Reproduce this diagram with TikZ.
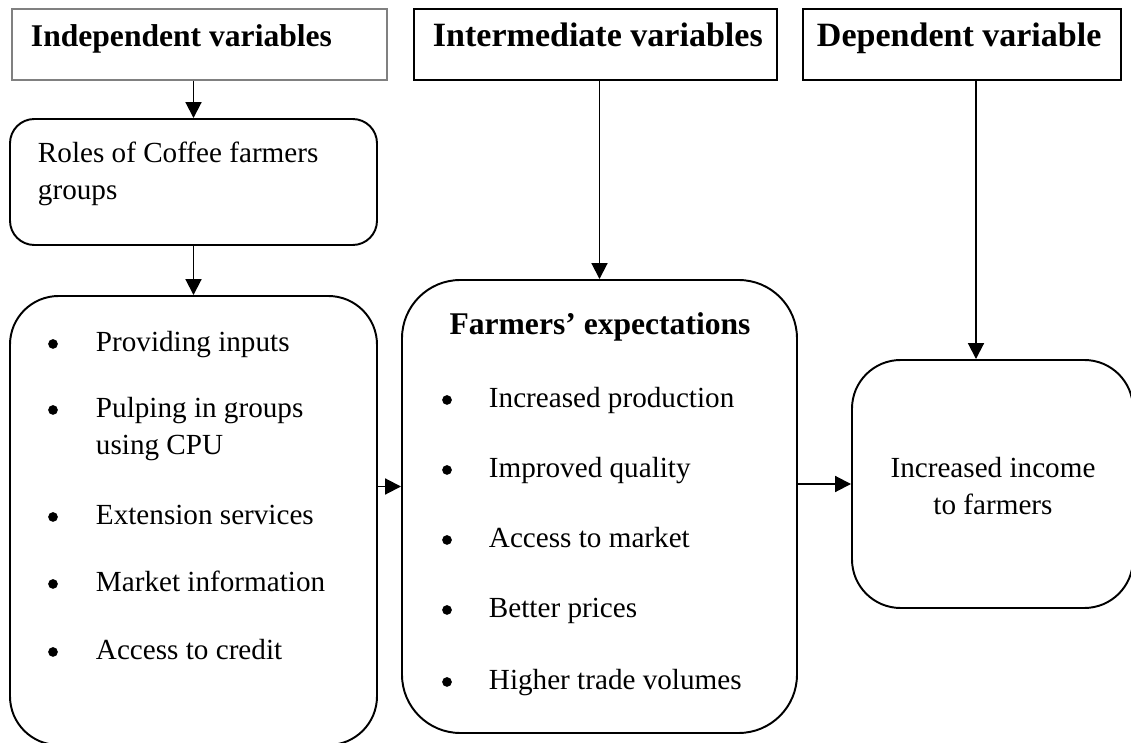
\documentclass[tikz,border=0pt]{standalone}
\usepackage{fontspec}
\setmainfont{Liberation Serif}
\usetikzlibrary{arrows.meta,fit}

\begin{document}
\begin{tikzpicture}[x=0.4115pt, y=-0.4115pt, line width=0.8pt,
    box/.style={draw, inner sep=0pt},
    head/.style={font=\fontsize{14}{17}\selectfont\bfseries, inner sep=0pt},
    txt/.style={font=\fontsize{12}{15.5}\selectfont, inner sep=0pt, anchor=base west, align=left},
    dot/.style={circle, fill, inner sep=0pt, minimum size=4pt, yshift=3.3pt},
    arr/.style={-{Triangle[length=6.5pt,width=6.5pt]}}]
  \useasboundingbox (0,0) rectangle (1131,743);

  % variable headings
  \node[box, draw=gray, line width=0.5pt, fit={(12,9) (387,80)}] (indep) {};
  \node[box, fit={(414,9) (777,80)}] (inter) {};
  \node[box, fit={(803,9) (1121,80)}] (dep) {};
  \node[head, font=\fontsize{13}{16}\selectfont\bfseries, anchor=base west] (indeptxt) at (30,47) {Independent variables};
  \node[head, anchor=base west] (intertxt) at (432,47) {Intermediate variables};
  \node[head, anchor=base west] (deptxt) at (816,47) {Dependent variable};

  % boxes
  \node[box, rounded corners=10pt, fit={(10,119) (377,245)}] (roles) {};
  \node[box, rounded corners=20pt, fit={(10,296) (377,745)}] (rolelist) {};
  \node[box, rounded corners=24pt, fit={(402,280) (797,733)}] (expect) {};
  \node[box, rounded corners=20pt, fit={(852,360) (1133,608)}] (income) {};

  % two-line texts sit on the baseline of their last line
  \node[txt] (rolestxt) at (37,200) {Roles of Coffee farmers\\groups};

  % roles of the groups
  \node[dot] (b1) at (53,352) {};
  \node[txt] (r1) at (95,352) {Providing inputs};
  \node[dot] (b2) at (53,418) {};
  \node[txt] (r2) at (95,455) {Pulping in groups\\using CPU};
  \node[dot] (b3) at (53,525) {};
  \node[txt] (r3) at (95,525) {Extension services};
  \node[dot] (b4) at (53,592) {};
  \node[txt] (r4) at (95,592) {Market information};
  \node[dot] (b5) at (53,660) {};
  \node[txt] (r5) at (95,660) {Access to credit};

  % expectations
  \node[head, font=\fontsize{13}{16}\selectfont\bfseries, anchor=base] (expecttxt) at (600,335) {Farmers’ expectations};
  \node[dot] (c1) at (447,408) {};
  \node[txt] (e1) at (488,408) {Increased production};
  \node[dot] (c2) at (447,478) {};
  \node[txt] (e2) at (488,478) {Improved quality};
  \node[dot] (c3) at (447,548) {};
  \node[txt] (e3) at (488,548) {Access to market};
  \node[dot] (c4) at (447,618) {};
  \node[txt] (e4) at (488,618) {Better prices};
  \node[dot] (c5) at (447,690) {};
  \node[txt] (e5) at (488,690) {Higher trade volumes};

  \node[txt, anchor=base, align=center] (incometxt) at (993,515) {Increased income\\to farmers};

  % arrows
  \draw[arr] (roles.north |- indep.south) -- (roles.north);
  \draw[arr] (roles) -- (rolelist);
  \draw[arr] (expect.north |- inter.south) -- (expect.north);
  \draw[arr] (dep.south) ++(14,0) coordinate (d) -- (d |- income.north);
  \draw[arr] (rolelist.east) ++(0,-34) coordinate (a) -- (a -| expect.west);
  \draw[arr] (income.west -| expect.east) -- (income.west);
\end{tikzpicture}
\end{document}
